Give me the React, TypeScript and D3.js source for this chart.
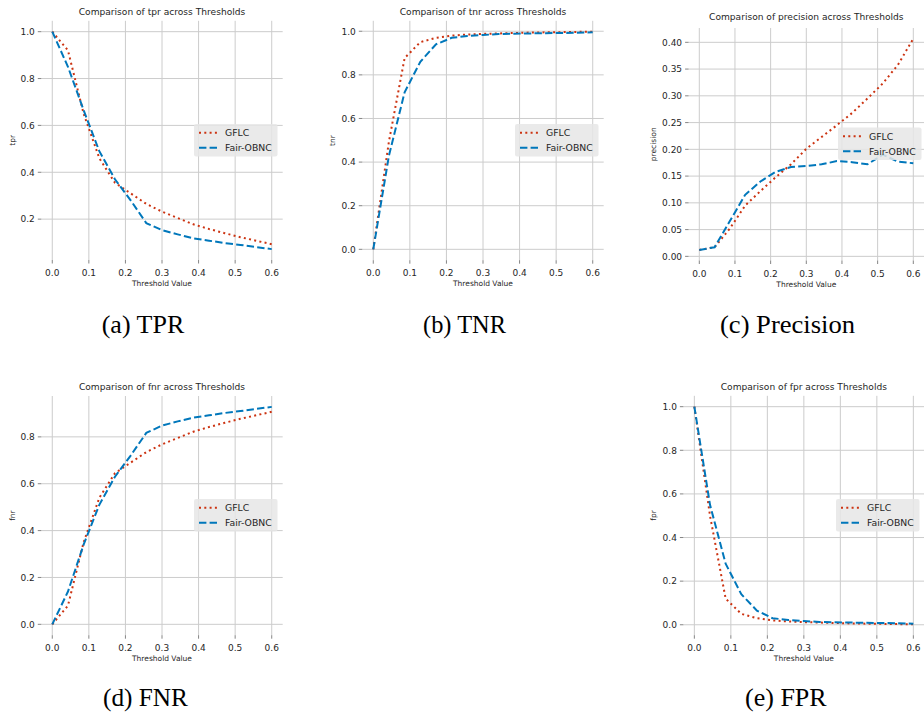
import React from "react";
import * as d3 from "d3";

// ---------- data ----------
const thresholds = [0, 0.0429, 0.0857, 0.1286, 0.1714, 0.2143, 0.2571, 0.3, 0.3429, 0.3857, 0.4286, 0.4714, 0.5143, 0.5571, 0.6];
const xTicks = [0, 0.1, 0.2, 0.3, 0.4, 0.5, 0.6];
const seriesNames = ["GFLC", "Fair-OBNC"];

const tprGFLC = [1.0, 0.92, 0.65, 0.46, 0.355, 0.31, 0.265, 0.232, 0.205, 0.178, 0.158, 0.14, 0.123, 0.108, 0.093];
const tprFairOBNC = [1.0, 0.85, 0.665, 0.49, 0.37, 0.28, 0.183, 0.153, 0.135, 0.118, 0.108, 0.098, 0.09, 0.081, 0.072];

const tnrGFLC = [0, 0.495, 0.877, 0.95, 0.97, 0.98, 0.985, 0.988, 0.99, 0.992, 0.994, 0.995, 0.996, 0.997, 0.998];
const tnrFairOBNC = [0, 0.43, 0.72, 0.86, 0.94, 0.97, 0.978, 0.983, 0.987, 0.989, 0.99, 0.991, 0.992, 0.993, 0.995];

const precisionGFLC = [0.012, 0.017, 0.052, 0.095, 0.122, 0.148, 0.172, 0.201, 0.223, 0.245, 0.268, 0.295, 0.323, 0.358, 0.407];
const precisionFairOBNC = [0.012, 0.017, 0.066, 0.115, 0.14, 0.158, 0.167, 0.169, 0.172, 0.178, 0.176, 0.172, 0.19, 0.177, 0.174];

const fnrGFLC = [0, 0.08, 0.35, 0.54, 0.645, 0.69, 0.735, 0.768, 0.795, 0.822, 0.842, 0.86, 0.877, 0.892, 0.907];
const fnrFairOBNC = [0, 0.14, 0.34, 0.51, 0.63, 0.72, 0.817, 0.848, 0.866, 0.882, 0.892, 0.902, 0.91, 0.919, 0.928];

const fprGFLC = [1.0, 0.5, 0.12, 0.05, 0.03, 0.02, 0.015, 0.012, 0.01, 0.008, 0.006, 0.005, 0.004, 0.003, 0.002];
const fprFairOBNC = [1.0, 0.55, 0.28, 0.14, 0.065, 0.03, 0.022, 0.017, 0.013, 0.011, 0.01, 0.009, 0.008, 0.007, 0.005];

const tprTicks = [0.2, 0.4, 0.6, 0.8, 1.0];
const tnrTicks = [0, 0.2, 0.4, 0.6, 0.8, 1.0];
const precisionTicks = [0, 0.05, 0.1, 0.15, 0.2, 0.25, 0.3, 0.35, 0.4];
const fnrTicks = [0, 0.2, 0.4, 0.6, 0.8];
const fprTicks = [0, 0.2, 0.4, 0.6, 0.8, 1.0];

const metricNames = ["tpr", "tnr", "precision", "fnr", "fpr"];
const captions = ["(a) TPR", "(b) TNR", "(c) Precision", "(d) FNR", "(e) FPR"];

// ---------- layout / style ----------
const COLORS = ["#CC3311", "#0077BB"];
const DASHES = ["2,3.3", "7.4,3.2"];
const SANS = "DejaVu Sans, sans-serif";
const SERIF = "'Liberation Serif', 'Times New Roman', Times, serif";

const panels = [
  { metric: metricNames[0], a: tprGFLC, b: tprFairOBNC, ticks: tprTicks, fmt: ".1f", l: 41.3, r: 282.7, t: 20.8, bt: 260, titleY: 14.5, ylabX: 14.5, leg: [194, 124], cap: captions[0], capX: 101.7, capW: 82.6, capY: 333 },
  { metric: metricNames[1], a: tnrGFLC, b: tnrFairOBNC, ticks: tnrTicks, fmt: ".1f", l: 362.3, r: 603.7, t: 20.8, bt: 260.2, titleY: 14.5, ylabX: 334.5, leg: [515, 124], cap: captions[1], capX: 423, capW: 83, capY: 333 },
  { metric: metricNames[2], a: precisionGFLC, b: precisionFairOBNC, ticks: precisionTicks, fmt: ".2f", l: 688.6, r: 924, t: 28, bt: 260.5, titleY: 20.3, ylabX: 656, leg: [838, 127.5], cap: captions[2], capX: 720, capW: 135, capY: 333 },
  { metric: metricNames[3], a: fnrGFLC, b: fnrFairOBNC, ticks: fnrTicks, fmt: ".1f", l: 41.3, r: 282.7, t: 396, bt: 635.2, titleY: 389.7, ylabX: 14.5, leg: [194, 499], cap: captions[3], capX: 103, capW: 85, capY: 706 },
  { metric: metricNames[4], a: fprGFLC, b: fprFairOBNC, ticks: fprTicks, fmt: ".1f", l: 683.4, r: 924.3, t: 395.8, bt: 635.2, titleY: 389.7, ylabX: 655.5, leg: [836, 499], cap: captions[4], capX: 745, capW: 81.7, capY: 706 },
];

function Panel({ p }: { p: any }) {
  const x = d3.scaleLinear().domain([-0.03, 0.63]).range([p.l, p.r]);
  const all = [...p.a, ...p.b];
  const lo = d3.min(all) as number;
  const hi = d3.max(all) as number;
  const m = (hi - lo) * 0.05;
  const y = d3.scaleLinear().domain([lo - m, hi + m]).range([p.bt, p.t]);
  const fmt = d3.format(p.fmt);
  const line = d3
    .line<number>()
    .x((_, i) => x(thresholds[i]))
    .y((d) => y(d));
  const cx = (p.l + p.r) / 2;
  const cy = (p.t + p.bt) / 2;
  const [lx, ly] = p.leg;
  return (
    <g>
      {xTicks.map((t) => (
        <line key={"gx" + t} x1={x(t)} x2={x(t)} y1={p.t} y2={p.bt} stroke="#cccccc" strokeWidth={1} />
      ))}
      {p.ticks.map((t: number) => (
        <line key={"gy" + t} x1={p.l} x2={p.r} y1={y(t)} y2={y(t)} stroke="#cccccc" strokeWidth={1} />
      ))}
      {xTicks.map((t) => (
        <line key={"tx" + t} x1={x(t)} x2={x(t)} y1={p.bt} y2={p.bt + 3.5} stroke="#777" strokeWidth={0.9} />
      ))}
      {p.ticks.map((t: number) => (
        <line key={"ty" + t} x1={p.l - 3.5} x2={p.l} y1={y(t)} y2={y(t)} stroke="#777" strokeWidth={0.9} />
      ))}
      {xTicks.map((t) => (
        <text key={"lx" + t} x={x(t)} y={p.bt + 16} fontSize={9} fontFamily={SANS} fill="#262626" textAnchor="middle">
          {d3.format(".1f")(t)}
        </text>
      ))}
      {p.ticks.map((t: number) => (
        <text key={"ly" + t} x={p.l - 6.5} y={y(t) + 3.3} fontSize={9} fontFamily={SANS} fill="#262626" textAnchor="end">
          {fmt(t)}
        </text>
      ))}
      <text x={cx} y={p.bt + 26} fontSize={7.5} fontFamily={SANS} fill="#262626" textAnchor="middle">
        Threshold Value
      </text>
      <text
        transform={`translate(${p.ylabX},${cy}) rotate(-90)`}
        fontSize={7.5}
        fontFamily={SANS}
        fill="#262626"
        textAnchor="middle"
      >
        {p.metric}
      </text>
      <text x={cx} y={p.titleY} fontSize={9.1} fontFamily={SANS} fill="#262626" textAnchor="middle">
        {`Comparison of ${p.metric} across Thresholds`}
      </text>
      {[p.a, p.b].map((vals: number[], i: number) => (
        <path key={"s" + i} d={line(vals) || ""} fill="none" stroke={COLORS[i]} strokeWidth={2} strokeDasharray={DASHES[i]} />
      ))}
      <rect x={lx} y={ly} width={83.5} height={32.5} rx={2} fill="#e6e6e6" fillOpacity={0.85} />
      {seriesNames.map((n, i) => (
        <g key={"lg" + n}>
          <line
            x1={lx + 5}
            x2={lx + 25}
            y1={ly + 8.7 + i * 15}
            y2={ly + 8.7 + i * 15}
            stroke={COLORS[i]}
            strokeWidth={2}
            strokeDasharray={DASHES[i]}
          />
          <text x={lx + 31} y={ly + 12 + i * 15} fontSize={9.3} fontFamily={SANS} fill="#262626">
            {n}
          </text>
        </g>
      ))}
      <text
        x={p.capX}
        y={p.capY}
        fontSize={25}
        fontFamily={SERIF}
        fill="#000"
        textLength={p.capW}
        lengthAdjust="spacingAndGlyphs"
      >
        {p.cap}
      </text>
    </g>
  );
}

export default function App() {
  return (
    <svg
      width={924}
      height={716}
      style={{ position: "absolute", left: 0, top: 0, background: "#fff" }}
      xmlns="http://www.w3.org/2000/svg"
    >
      <rect x={0} y={0} width={924} height={716} fill="#fff" />
      {panels.map((p, i) => (
        <Panel key={i} p={p} />
      ))}
    </svg>
  );
}
